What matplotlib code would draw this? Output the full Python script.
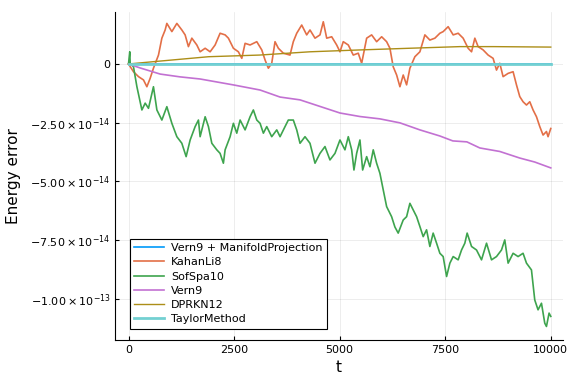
import numpy as np
import matplotlib
matplotlib.use("Agg")
import matplotlib.pyplot as plt

# values, energy error in units of 1e-14
scale = 1e-14

t_kahan = [0, 118, 237, 355, 435, 513, 591, 710, 790, 868, 908, 1027, 1145, 1263, 1341,
           1419, 1500, 1618, 1696, 1815, 1933, 2051, 2169, 2288, 2366, 2484, 2602, 2683,
           2761, 2879, 3038, 3156, 3234, 3312, 3392, 3470, 3549, 3667, 3825, 3903, 3984,
           4102, 4220, 4298, 4417, 4535, 4613, 4694, 4812, 4930, 5008, 5086, 5205, 5323,
           5441, 5522, 5640, 5758, 5876, 5995, 6113, 6191, 6269, 6350, 6428, 6506, 6586,
           6664, 6782, 6901, 7019, 7137, 7256, 7374, 7452, 7570, 7689, 7807, 7925, 8043,
           8124, 8202, 8280, 8398, 8517, 8635, 8715, 8793, 8871, 8990, 9108, 9188, 9266,
           9344, 9425, 9503, 9581, 9662, 9740, 9818, 9898, 9936, 10000]
e_kahan = [0, -0.33, -0.54, -0.68, -0.97, -0.61, -0.18, 0.38, 1.10, 1.45, 1.73, 1.38, 1.73,
           1.45, 1.24, 0.74, 1.10, 0.81, 0.52, 0.67, 0.52, 0.81, 1.31, 1.24, 1.10, 0.67,
           0.52, 0.24, 0.88, 0.81, 0.95, 0.60, 0.17, -0.18, 0.03, 0.95, 0.67, 0.46, 0.38,
           0.95, 1.31, 1.66, 1.24, 1.45, 1.10, 1.24, 1.80, 1.10, 1.16, 0.81, 0.52, 0.95,
           0.81, 0.38, 0.46, 0.03, 1.10, 1.24, 0.95, 1.16, 0.95, 0.67, -0.12, -0.47, -0.97,
           -0.47, -0.89, -0.18, 0.31, 0.52, 1.24, 1.02, 1.10, 1.31, 1.38, 1.59, 1.24, 1.31,
           1.10, 0.67, 0.52, 1.10, 0.74, 0.60, 0.38, 0.24, -0.26, 0.03, -0.54, -0.40, -0.33,
           -0.89, -1.39, -1.61, -1.75, -1.61, -1.96, -2.25, -2.67, -3.03, -2.88, -3.10, -2.75]

t_sofspa = [0, 30, 40, 118, 199, 317, 395, 473, 591, 672, 790, 908, 1027, 1145, 1263, 1365,
            1460, 1578, 1656, 1696, 1815, 1893, 1973, 2091, 2169, 2247, 2288, 2406, 2484,
            2564, 2643, 2761, 2879, 2957, 3038, 3116, 3194, 3274, 3392, 3511, 3589, 3707,
            3785, 3903, 3984, 4062, 4180, 4298, 4417, 4535, 4653, 4771, 4890, 5008, 5126,
            5205, 5285, 5339, 5403, 5481, 5545, 5640, 5718, 5796, 5876, 5954, 6033, 6113,
            6231, 6309, 6387, 6506, 6586, 6664, 6742, 6823, 6901, 6979, 7059, 7137, 7215,
            7296, 7374, 7452, 7533, 7611, 7689, 7807, 7887, 7965, 8020, 8124, 8242, 8360,
            8479, 8597, 8715, 8833, 8911, 8990, 9108, 9226, 9344, 9425, 9543, 9621, 9699,
            9780, 9858, 9898, 9960, 10000]
e_sofspa = [0, 0.52, 0.03, -0.12, -0.97, -1.96, -1.67, -1.89, -0.97, -1.96, -2.39, -1.82,
            -2.53, -3.10, -3.38, -3.95, -3.24, -2.67, -2.39, -3.10, -2.25, -2.67, -3.38,
            -3.66, -3.81, -4.23, -3.66, -3.10, -2.53, -2.95, -2.39, -2.81, -2.25, -1.96,
            -2.39, -2.53, -2.95, -2.67, -3.10, -2.81, -3.10, -2.67, -2.39, -2.39, -2.81,
            -3.38, -3.10, -3.38, -4.23, -3.81, -3.52, -4.09, -3.81, -3.24, -3.66, -3.10,
            -3.66, -4.52, -3.81, -3.24, -4.52, -3.95, -4.38, -3.66, -4.23, -4.66, -5.37,
            -6.08, -6.51, -6.95, -7.21, -6.65, -6.51, -5.94, -6.22, -6.51, -6.93, -7.36,
            -7.07, -7.78, -7.21, -7.64, -8.07, -8.21, -9.06, -8.49, -8.21, -8.35, -7.93,
            -7.64, -7.21, -7.78, -7.93, -8.35, -7.64, -8.35, -8.21, -7.93, -7.50, -8.49,
            -8.07, -8.21, -8.07, -8.49, -8.78, -10.06, -10.48, -10.20, -11.05, -11.19,
            -10.62, -10.76]

t_vern9 = [0, 277, 750, 1223, 1696, 2477, 3116, 3589, 4062, 4535, 5008, 5481, 5954, 6428,
           6901, 7374, 7681, 8013, 8320, 8793, 9266, 9621, 10000]
e_vern9 = [0, -0.17, -0.43, -0.55, -0.64, -0.89, -1.11, -1.41, -1.53, -1.81, -2.09, -2.24,
           -2.34, -2.51, -2.81, -3.07, -3.28, -3.32, -3.58, -3.73, -4.01, -4.18, -4.43]

t_dprkn = [0, 600, 1900, 3100, 4300, 5500, 6650, 7850, 8650, 10000]
e_dprkn = [0, 0.10, 0.31, 0.38, 0.52, 0.60, 0.67, 0.74, 0.74, 0.72]

t_flat = [0, 10000]
e_manifold = [0, 0]
e_taylor = [0, 0]

yticks = [0, -2.5, -5.0, -7.5, -10.0]
ytick_labels = ["0", r"$-2.50\times10^{-14}$", r"$-5.00\times10^{-14}$",
                r"$-7.50\times10^{-14}$", r"$-1.00\times10^{-13}$"]
xticks = [0, 2500, 5000, 7500, 10000]

plt.rcParams["font.family"] = "DejaVu Sans"
plt.rcParams["mathtext.fontset"] = "dejavusans"

fig = plt.figure(figsize=(5.76, 3.84), dpi=100)
ax = fig.add_axes([0.2, 0.115, 0.777, 0.854])

lw = 1.2
ax.plot(t_flat, np.array(e_manifold) * scale, color="#009AFA", lw=lw, label="Vern9 + ManifoldProjection")
ax.plot(t_kahan, np.array(e_kahan) * scale, color="#E36F47", lw=lw, label="KahanLi8")
ax.plot(t_sofspa, np.array(e_sofspa) * scale, color="#3EA44E", lw=lw, label="SofSpa10")
ax.plot(t_vern9, np.array(e_vern9) * scale, color="#C271D2", lw=lw, label="Vern9")
ax.plot(t_dprkn, np.array(e_dprkn) * scale, color="#AC8E18", lw=1.0, label="DPRKN12")
ax.plot(t_flat, np.array(e_taylor) * scale, color="#73D0D2", lw=2.0, label="TaylorMethod")

ax.set_xlim(-315, 10284)
ax.set_ylim(-11.76e-14, 2.22e-14)
ax.set_xticks(xticks)
ax.set_yticks(np.array(yticks) * scale)
ax.set_yticklabels(ytick_labels)
ax.tick_params(direction="in", length=3, labelsize=8, width=0.8)
ax.grid(True, color="black", alpha=0.1, linewidth=0.5)
for s in ["top", "right"]:
    ax.spines[s].set_visible(False)

ax.set_xlabel("t", fontsize=11)
ax.set_ylabel("Energy error", fontsize=11, labelpad=7)

leg = ax.legend(loc="lower left", bbox_to_anchor=(0.033, 0.034), borderaxespad=0,
                fontsize=8, fancybox=False, framealpha=1, edgecolor="black",
                handlelength=2.7, labelspacing=0.38, borderpad=0.4, handletextpad=0.6)
leg.get_frame().set_linewidth(0.8)

fig.savefig("out.png", dpi=100)
